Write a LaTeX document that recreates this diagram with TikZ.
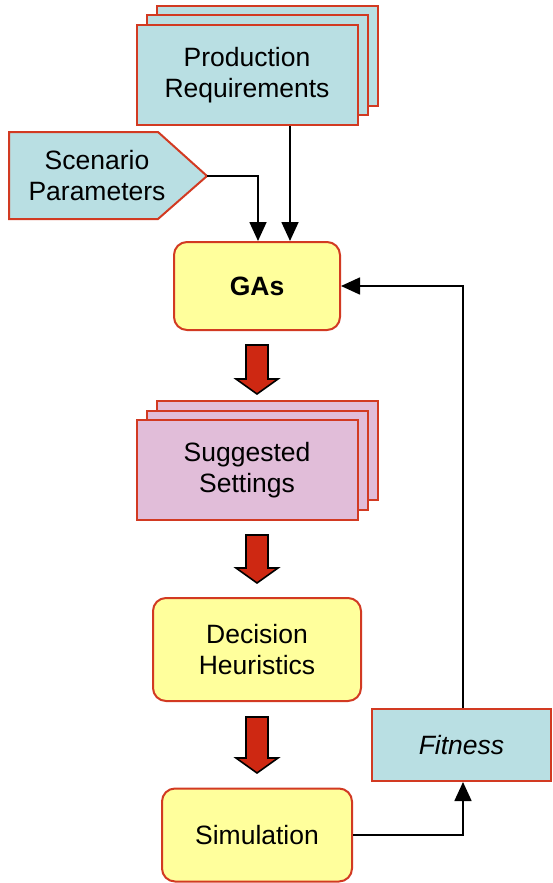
\documentclass[tikz,border=0pt]{standalone}
\usepackage{fontspec}
\setmainfont{Liberation Sans}
\usetikzlibrary{arrows.meta,calc}
\definecolor{bluefill}{HTML}{B9DFE3}
\definecolor{yelfill}{HTML}{FFFF9C}
\definecolor{pinkfill}{HTML}{E1BDD9}
\definecolor{redline}{HTML}{D23A22}
\definecolor{arrred}{HTML}{CE2812}
\newcommand\redblockarrow[3]{%
  \draw[blockarr] (#1-11,#2) -- (#1+11,#2) -- (#1+11,#3-15) -- (#1+21,#3-15)
    -- (#1,#3) -- (#1-21,#3-15) -- (#1-11,#3-15) -- cycle;}
\begin{document}
\begin{tikzpicture}[x=1pt,y=-1pt,
  txt/.style={font=\fontsize{26.5}{31}\selectfont, align=center, text=black},
  card/.style={draw=redline, line width=2pt, rectangle, inner sep=0pt},
  rbox/.style={card, rounded corners=13pt, fill=yelfill},
  conn/.style={draw=black, line width=1.7pt, -{Triangle[width=17pt,length=19pt]}},
  blockarr/.style={fill=arrred, draw=black, line width=1.6pt, line join=miter}]
\useasboundingbox (0,0) rectangle (552,883);

% Production Requirements stack
\node[card, fill=bluefill, minimum width=221pt, minimum height=99pt] (prodb2) at (267,56) {};
\node[card, fill=bluefill, minimum width=221pt, minimum height=99pt] (prodb1) at (257,65) {};
\node[card, fill=bluefill, minimum width=221pt, minimum height=100pt, txt] (prod) at (247,75) {Production\\Requirements};

% Scenario Parameters pentagon
\draw[draw=redline, line width=2pt, fill=bluefill, line join=miter]
  (9,132) -- (158,132) -- (207,176) -- (158,219) -- (9,219) -- cycle;
\node[txt] (scen) at (97,176) {Scenario\\Parameters};
\coordinate (scentip) at (207,176);

% GAs
\node[rbox, minimum width=166pt, minimum height=88pt, txt, font=\fontsize{26.5}{31}\selectfont\bfseries] (gas) at (257,286) {GAs};

% Suggested Settings stack
\node[card, fill=pinkfill, minimum width=221pt, minimum height=99pt] (suggb2) at (267,450) {};
\node[card, fill=pinkfill, minimum width=221pt, minimum height=99pt] (suggb1) at (257,460) {};
\node[card, fill=pinkfill, minimum width=221pt, minimum height=100pt, txt] (sugg) at (247,470) {Suggested\\Settings};

% Decision Heuristics
\node[rbox, minimum width=208pt, minimum height=103pt, txt] (dec) at (257,649.5) {Decision\\Heuristics};

% Simulation
\node[rbox, minimum width=190pt, minimum height=93pt, txt] (sim) at (257,835) {Simulation};

% Fitness
\node[card, fill=bluefill, minimum width=179pt, minimum height=72pt, txt, font=\fontsize{26.5}{31}\selectfont\itshape] (fit) at (461.5,745) {Fitness};

% block arrows
\redblockarrow{257}{345}{394}
\redblockarrow{257}{535}{583}
\redblockarrow{257}{717}{773}

% connectors
\draw[conn] (prod.south -| 290,0) -- (gas.north -| 290,0);
\draw[conn] (scentip) -| (gas.north -| 258,0);
\coordinate (fitx) at (463,0);
\draw[conn] (sim.east) -- (sim.east -| fitx) -- (fit.south -| fitx);
\draw[conn] (fit.north -| fitx) |- (gas.east);
\end{tikzpicture}
\end{document}
